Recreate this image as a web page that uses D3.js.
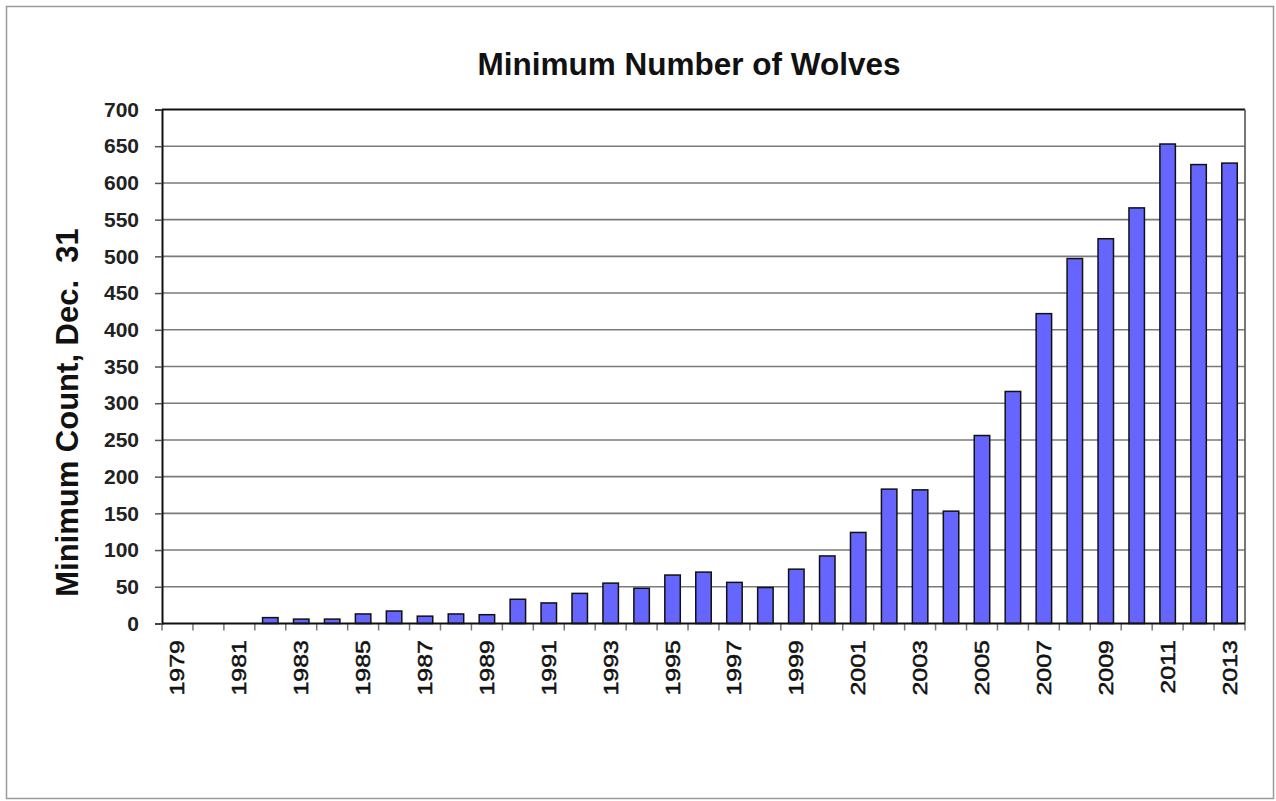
<!DOCTYPE html>
<html>
<head>
<meta charset="utf-8">
<script src="https://cdn.jsdelivr.net/npm/d3@7/dist/d3.min.js"></script>
<style>
  html, body { margin: 0; padding: 0; background: #ffffff; }
  svg { display: block; }
</style>
</head>
<body>
<script>
const years = [1979,1980,1981,1982,1983,1984,1985,1986,1987,1988,1989,1990,1991,1992,1993,1994,1995,1996,1997,1998,1999,2000,2001,2002,2003,2004,2005,2006,2007,2008,2009,2010,2011,2012,2013];
const counts = [0,0,0,8,6,6,13,17,10,13,12,33,28,41,55,48,66,70,56,49,74,92,124,183,182,153,256,316,422,497,524,566,653,625,627];
const yTicks = [0,50,100,150,200,250,300,350,400,450,500,550,600,650,700];
const xLabelYears = [1979,1981,1983,1985,1987,1989,1991,1993,1995,1997,1999,2001,2003,2005,2007,2009,2011,2013];
const titleText = "Minimum Number of Wolves";
const yTitleText = "Minimum Count, Dec.\u00A0\u00A031";

const W = 1276, H = 801;
const plot = { left: 162, right: 1245, top: 109.5, bottom: 623.5 };

const svg = d3.select("body").append("svg").attr("width", W).attr("height", H);

// outer frame
svg.append("rect").attr("x", 6.5).attr("y", 6.5).attr("width", 1267).attr("height", 792)
  .attr("fill", "#fff").attr("stroke", "#9a9a9a").attr("stroke-width", 1.5);

const x = d3.scaleBand().domain(years).range([plot.left, plot.right]).paddingInner(0.5).paddingOuter(0.25);
const y = d3.scaleLinear().domain([0, 700]).range([plot.bottom, plot.top]);

// gridlines
svg.append("g").selectAll("line").data(yTicks.filter(d => d > 0 && d < 700)).join("line")
  .attr("x1", plot.left).attr("x2", plot.right)
  .attr("y1", d => y(d)).attr("y2", d => y(d))
  .attr("stroke", "#7a7a7a").attr("stroke-width", 1.6);

// top & right borders
svg.append("line").attr("x1", plot.left).attr("x2", plot.right).attr("y1", y(700)).attr("y2", y(700))
  .attr("stroke", "#111").attr("stroke-width", 2);
svg.append("line").attr("x1", plot.right).attr("x2", plot.right).attr("y1", plot.top).attr("y2", plot.bottom)
  .attr("stroke", "#555").attr("stroke-width", 1.6);

// bars
svg.append("g").selectAll("rect").data(years.map((yr, i) => ({ yr, v: counts[i] })).filter(d => d.v > 0)).join("rect")
  .attr("x", d => x(d.yr))
  .attr("width", x.bandwidth())
  .attr("y", d => y(d.v))
  .attr("height", d => y(0) - y(d.v))
  .attr("fill", "#6666ff")
  .attr("stroke", "#111")
  .attr("stroke-width", 1.5);

// y axis
const yAxis = svg.append("g").attr("transform", `translate(${plot.left},0)`)
  .call(d3.axisLeft(y).tickValues(yTicks).tickSize(7).tickPadding(16).tickFormat(d3.format("d")));
yAxis.select(".domain").attr("stroke", "#111").attr("stroke-width", 2);
yAxis.selectAll(".tick line").attr("stroke", "#555").attr("stroke-width", 1.5);
yAxis.selectAll(".tick text")
  .attr("font-family", "'Liberation Sans', Arial, sans-serif")
  .attr("font-weight", "bold").attr("font-size", 21).attr("fill", "#222");

// x axis baseline
const step = x.step();
const half = step * x.paddingInner() / 2;
const boundaries = years.map(yr => x(yr) - half).concat([x(years[years.length - 1]) + x.bandwidth() + half]);
svg.append("g").selectAll("line").data(boundaries).join("line")
  .attr("x1", d => d).attr("x2", d => d)
  .attr("y1", y(0)).attr("y2", y(0) + 7)
  .attr("stroke", "#777").attr("stroke-width", 1.5);
svg.append("line").attr("x1", plot.left).attr("x2", plot.right).attr("y1", y(0)).attr("y2", y(0))
  .attr("stroke", "#111").attr("stroke-width", 2);

// x labels
svg.append("g").selectAll("text").data(xLabelYears).join("text")
  .attr("transform", d => `translate(${x(d) + x.bandwidth() / 2 + 7},640) rotate(-90) scale(1.25,1)`)
  .attr("text-anchor", "end")
  .attr("font-family", "'Liberation Sans', Arial, sans-serif")
  .attr("font-size", 20).attr("fill", "#111")
  .attr("stroke", "#111").attr("stroke-width", 0.5)
  .text(d => d);

// title
svg.append("text").attr("x", 689).attr("y", 75).attr("text-anchor", "middle")
  .attr("font-family", "'Liberation Sans', Arial, sans-serif")
  .attr("font-weight", "bold").attr("font-size", 31.5).attr("fill", "#111")
  .text(titleText);

// y title
svg.append("text").attr("transform", "translate(78,412.5) rotate(-90)")
  .attr("text-anchor", "middle")
  .attr("font-family", "'Liberation Sans', Arial, sans-serif")
  .attr("font-weight", "bold").attr("font-size", 31).attr("fill", "#111")
  .text(yTitleText);
</script>
</body>
</html>
